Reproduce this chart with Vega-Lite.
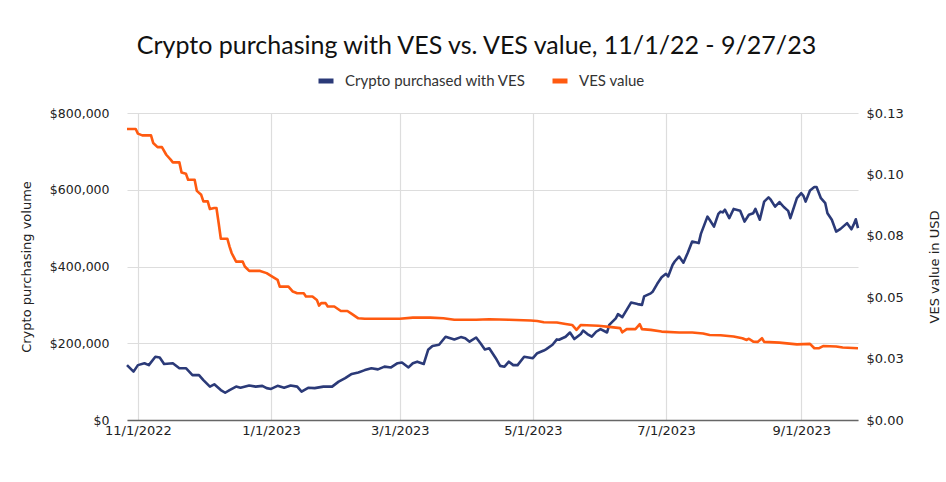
{
  "$schema": "https://vega.github.io/schema/vega-lite/v6.json",
  "width": 731,
  "height": 307,
  "autosize": {"type": "none"},
  "padding": {"left": 127, "top": 113, "right": 88, "bottom": 62},
  "background": "white",
  "title": {
    "text": "Crypto purchasing with VES vs. VES value, 11/1/22 - 9/27/23",
    "anchor": "middle",
    "dx": -16,
    "offset": 12,
    "font": "Lato",
    "fontSize": 25,
    "fontWeight": "normal",
    "color": "#111111"
  },
  "datasets": {
    "crypto": [
      {"date": "2022-10-27", "value": 143000},
      {"date": "2022-10-30", "value": 126000},
      {"date": "2022-11-01", "value": 143000},
      {"date": "2022-11-04", "value": 148000},
      {"date": "2022-11-06", "value": 143000},
      {"date": "2022-11-09", "value": 165000},
      {"date": "2022-11-11", "value": 163000},
      {"date": "2022-11-13", "value": 146000},
      {"date": "2022-11-17", "value": 148000},
      {"date": "2022-11-20", "value": 135000},
      {"date": "2022-11-23", "value": 135000},
      {"date": "2022-11-26", "value": 117000},
      {"date": "2022-11-29", "value": 117000},
      {"date": "2022-12-01", "value": 104000},
      {"date": "2022-12-04", "value": 87000},
      {"date": "2022-12-06", "value": 93000},
      {"date": "2022-12-09", "value": 78000},
      {"date": "2022-12-11", "value": 71000},
      {"date": "2022-12-13", "value": 78000},
      {"date": "2022-12-16", "value": 87000},
      {"date": "2022-12-18", "value": 84000},
      {"date": "2022-12-22", "value": 90000},
      {"date": "2022-12-25", "value": 87000},
      {"date": "2022-12-28", "value": 89000},
      {"date": "2022-12-30", "value": 83000},
      {"date": "2023-01-01", "value": 81000},
      {"date": "2023-01-04", "value": 89000},
      {"date": "2023-01-07", "value": 84000},
      {"date": "2023-01-10", "value": 90000},
      {"date": "2023-01-13", "value": 87000},
      {"date": "2023-01-15", "value": 74000},
      {"date": "2023-01-18", "value": 84000},
      {"date": "2023-01-21", "value": 83000},
      {"date": "2023-01-25", "value": 87000},
      {"date": "2023-01-29", "value": 87000},
      {"date": "2023-02-01", "value": 100000},
      {"date": "2023-02-04", "value": 109000},
      {"date": "2023-02-07", "value": 120000},
      {"date": "2023-02-10", "value": 124000},
      {"date": "2023-02-13", "value": 130000},
      {"date": "2023-02-16", "value": 135000},
      {"date": "2023-02-19", "value": 132000},
      {"date": "2023-02-22", "value": 139000},
      {"date": "2023-02-25", "value": 137000},
      {"date": "2023-02-28", "value": 148000},
      {"date": "2023-03-02", "value": 150000},
      {"date": "2023-03-05", "value": 137000},
      {"date": "2023-03-07", "value": 148000},
      {"date": "2023-03-09", "value": 152000},
      {"date": "2023-03-12", "value": 146000},
      {"date": "2023-03-14", "value": 183000},
      {"date": "2023-03-16", "value": 193000},
      {"date": "2023-03-19", "value": 196000},
      {"date": "2023-03-22", "value": 217000},
      {"date": "2023-03-26", "value": 210000},
      {"date": "2023-03-29", "value": 216000},
      {"date": "2023-03-31", "value": 213000},
      {"date": "2023-04-02", "value": 204000},
      {"date": "2023-04-05", "value": 215000},
      {"date": "2023-04-07", "value": 200000},
      {"date": "2023-04-09", "value": 184000},
      {"date": "2023-04-11", "value": 187000},
      {"date": "2023-04-14", "value": 161000},
      {"date": "2023-04-16", "value": 141000},
      {"date": "2023-04-18", "value": 139000},
      {"date": "2023-04-20", "value": 152000},
      {"date": "2023-04-22", "value": 143000},
      {"date": "2023-04-24", "value": 143000},
      {"date": "2023-04-27", "value": 165000},
      {"date": "2023-04-29", "value": 163000},
      {"date": "2023-05-01", "value": 161000},
      {"date": "2023-05-03", "value": 174000},
      {"date": "2023-05-06", "value": 181000},
      {"date": "2023-05-07", "value": 184000},
      {"date": "2023-05-10", "value": 196000},
      {"date": "2023-05-12", "value": 210000},
      {"date": "2023-05-13", "value": 209000},
      {"date": "2023-05-16", "value": 217000},
      {"date": "2023-05-18", "value": 228000},
      {"date": "2023-05-20", "value": 211000},
      {"date": "2023-05-23", "value": 224000},
      {"date": "2023-05-24", "value": 233000},
      {"date": "2023-05-26", "value": 224000},
      {"date": "2023-05-28", "value": 217000},
      {"date": "2023-05-30", "value": 230000},
      {"date": "2023-06-01", "value": 237000},
      {"date": "2023-06-04", "value": 228000},
      {"date": "2023-06-05", "value": 248000},
      {"date": "2023-06-08", "value": 265000},
      {"date": "2023-06-09", "value": 276000},
      {"date": "2023-06-11", "value": 268000},
      {"date": "2023-06-13", "value": 287000},
      {"date": "2023-06-15", "value": 306000},
      {"date": "2023-06-18", "value": 302000},
      {"date": "2023-06-20", "value": 300000},
      {"date": "2023-06-21", "value": 322000},
      {"date": "2023-06-24", "value": 330000},
      {"date": "2023-06-25", "value": 335000},
      {"date": "2023-06-27", "value": 355000},
      {"date": "2023-06-29", "value": 372000},
      {"date": "2023-07-01", "value": 381000},
      {"date": "2023-07-02", "value": 374000},
      {"date": "2023-07-04", "value": 404000},
      {"date": "2023-07-05", "value": 413000},
      {"date": "2023-07-07", "value": 426000},
      {"date": "2023-07-09", "value": 410000},
      {"date": "2023-07-11", "value": 436000},
      {"date": "2023-07-13", "value": 465000},
      {"date": "2023-07-16", "value": 461000},
      {"date": "2023-07-17", "value": 485000},
      {"date": "2023-07-19", "value": 515000},
      {"date": "2023-07-20", "value": 530000},
      {"date": "2023-07-21", "value": 522000},
      {"date": "2023-07-23", "value": 504000},
      {"date": "2023-07-25", "value": 537000},
      {"date": "2023-07-26", "value": 543000},
      {"date": "2023-07-27", "value": 541000},
      {"date": "2023-07-28", "value": 548000},
      {"date": "2023-07-30", "value": 526000},
      {"date": "2023-08-01", "value": 550000},
      {"date": "2023-08-04", "value": 545000},
      {"date": "2023-08-06", "value": 517000},
      {"date": "2023-08-08", "value": 535000},
      {"date": "2023-08-10", "value": 539000},
      {"date": "2023-08-11", "value": 550000},
      {"date": "2023-08-13", "value": 522000},
      {"date": "2023-08-15", "value": 569000},
      {"date": "2023-08-17", "value": 580000},
      {"date": "2023-08-18", "value": 574000},
      {"date": "2023-08-20", "value": 556000},
      {"date": "2023-08-22", "value": 568000},
      {"date": "2023-08-24", "value": 555000},
      {"date": "2023-08-26", "value": 545000},
      {"date": "2023-08-27", "value": 526000},
      {"date": "2023-08-30", "value": 578000},
      {"date": "2023-09-01", "value": 591000},
      {"date": "2023-09-02", "value": 584000},
      {"date": "2023-09-03", "value": 569000},
      {"date": "2023-09-05", "value": 598000},
      {"date": "2023-09-07", "value": 607000},
      {"date": "2023-09-08", "value": 607000},
      {"date": "2023-09-10", "value": 578000},
      {"date": "2023-09-12", "value": 565000},
      {"date": "2023-09-13", "value": 539000},
      {"date": "2023-09-15", "value": 522000},
      {"date": "2023-09-17", "value": 491000},
      {"date": "2023-09-19", "value": 498000},
      {"date": "2023-09-22", "value": 513000},
      {"date": "2023-09-24", "value": 497000},
      {"date": "2023-09-25", "value": 509000},
      {"date": "2023-09-26", "value": 523000},
      {"date": "2023-09-27", "value": 500000}
    ],
    "ves": [
      {"date": "2022-10-27", "value": 0.1185},
      {"date": "2022-10-31", "value": 0.1185},
      {"date": "2022-11-01", "value": 0.1166},
      {"date": "2022-11-03", "value": 0.1159},
      {"date": "2022-11-07", "value": 0.1159},
      {"date": "2022-11-08", "value": 0.1128},
      {"date": "2022-11-10", "value": 0.1111},
      {"date": "2022-11-12", "value": 0.1111},
      {"date": "2022-11-14", "value": 0.1080},
      {"date": "2022-11-16", "value": 0.1060},
      {"date": "2022-11-17", "value": 0.1049},
      {"date": "2022-11-20", "value": 0.1049},
      {"date": "2022-11-21", "value": 0.1008},
      {"date": "2022-11-23", "value": 0.1003},
      {"date": "2022-11-24", "value": 0.0978},
      {"date": "2022-11-27", "value": 0.0978},
      {"date": "2022-11-28", "value": 0.0933},
      {"date": "2022-11-30", "value": 0.0917},
      {"date": "2022-12-01", "value": 0.0890},
      {"date": "2022-12-03", "value": 0.0890},
      {"date": "2022-12-04", "value": 0.0859},
      {"date": "2022-12-06", "value": 0.0863},
      {"date": "2022-12-07", "value": 0.0863},
      {"date": "2022-12-08", "value": 0.0802},
      {"date": "2022-12-09", "value": 0.0738},
      {"date": "2022-12-12", "value": 0.0738},
      {"date": "2022-12-13", "value": 0.0706},
      {"date": "2022-12-14", "value": 0.0679},
      {"date": "2022-12-16", "value": 0.0645},
      {"date": "2022-12-19", "value": 0.0645},
      {"date": "2022-12-20", "value": 0.0625},
      {"date": "2022-12-22", "value": 0.0607},
      {"date": "2022-12-27", "value": 0.0607},
      {"date": "2022-12-30", "value": 0.0598},
      {"date": "2023-01-01", "value": 0.0587},
      {"date": "2023-01-04", "value": 0.0571},
      {"date": "2023-01-05", "value": 0.0543},
      {"date": "2023-01-09", "value": 0.0543},
      {"date": "2023-01-11", "value": 0.0523},
      {"date": "2023-01-13", "value": 0.0516},
      {"date": "2023-01-16", "value": 0.0516},
      {"date": "2023-01-17", "value": 0.0503},
      {"date": "2023-01-20", "value": 0.0503},
      {"date": "2023-01-22", "value": 0.0489},
      {"date": "2023-01-23", "value": 0.0466},
      {"date": "2023-01-24", "value": 0.0476},
      {"date": "2023-01-26", "value": 0.0476},
      {"date": "2023-01-27", "value": 0.0462},
      {"date": "2023-01-30", "value": 0.0462},
      {"date": "2023-02-02", "value": 0.0444},
      {"date": "2023-02-05", "value": 0.0444},
      {"date": "2023-02-07", "value": 0.0432},
      {"date": "2023-02-10", "value": 0.0414},
      {"date": "2023-02-13", "value": 0.0412},
      {"date": "2023-03-01", "value": 0.0412},
      {"date": "2023-03-07", "value": 0.0417},
      {"date": "2023-03-15", "value": 0.0417},
      {"date": "2023-03-21", "value": 0.0414},
      {"date": "2023-03-26", "value": 0.0408},
      {"date": "2023-04-05", "value": 0.0408},
      {"date": "2023-04-11", "value": 0.0410},
      {"date": "2023-04-20", "value": 0.0408},
      {"date": "2023-04-30", "value": 0.0405},
      {"date": "2023-05-03", "value": 0.0403},
      {"date": "2023-05-06", "value": 0.0398},
      {"date": "2023-05-12", "value": 0.0397},
      {"date": "2023-05-16", "value": 0.0391},
      {"date": "2023-05-19", "value": 0.0387},
      {"date": "2023-05-21", "value": 0.0367},
      {"date": "2023-05-23", "value": 0.0387},
      {"date": "2023-05-31", "value": 0.0384},
      {"date": "2023-06-06", "value": 0.0378},
      {"date": "2023-06-10", "value": 0.0374},
      {"date": "2023-06-11", "value": 0.0357},
      {"date": "2023-06-13", "value": 0.0370},
      {"date": "2023-06-17", "value": 0.0370},
      {"date": "2023-06-19", "value": 0.0390},
      {"date": "2023-06-20", "value": 0.0370},
      {"date": "2023-06-24", "value": 0.0367},
      {"date": "2023-06-29", "value": 0.0360},
      {"date": "2023-07-07", "value": 0.0356},
      {"date": "2023-07-13", "value": 0.0356},
      {"date": "2023-07-18", "value": 0.0352},
      {"date": "2023-07-21", "value": 0.0346},
      {"date": "2023-07-26", "value": 0.0345},
      {"date": "2023-08-01", "value": 0.0340},
      {"date": "2023-08-05", "value": 0.0333},
      {"date": "2023-08-07", "value": 0.0326},
      {"date": "2023-08-08", "value": 0.0331},
      {"date": "2023-08-10", "value": 0.0319},
      {"date": "2023-08-12", "value": 0.0318},
      {"date": "2023-08-14", "value": 0.0333},
      {"date": "2023-08-15", "value": 0.0318},
      {"date": "2023-08-22", "value": 0.0315},
      {"date": "2023-08-30", "value": 0.0308},
      {"date": "2023-09-05", "value": 0.0310},
      {"date": "2023-09-07", "value": 0.0292},
      {"date": "2023-09-09", "value": 0.0292},
      {"date": "2023-09-11", "value": 0.0301},
      {"date": "2023-09-17", "value": 0.0299},
      {"date": "2023-09-20", "value": 0.0295},
      {"date": "2023-09-27", "value": 0.0292}
    ]
  },
  "layer": [
    {
      "data": {"name": "crypto"},
      "mark": {"type": "line", "strokeWidth": 2.6, "strokeJoin": "round"},
      "encoding": {
        "x": {
          "field": "date",
          "type": "temporal",
          "scale": {
            "type": "utc",
            "nice": false,
            "domain": [
              {"year": 2022, "month": 10, "date": 27, "utc": true},
              {"year": 2023, "month": 9, "date": 27, "utc": true}
            ]
          },
          "axis": {
            "title": null,
            "format": "%-m/%-d/%Y",
            "values": [
              {"year": 2022, "month": 11, "date": 1, "utc": true},
              {"year": 2023, "month": 1, "date": 1, "utc": true},
              {"year": 2023, "month": 3, "date": 1, "utc": true},
              {"year": 2023, "month": 5, "date": 1, "utc": true},
              {"year": 2023, "month": 7, "date": 1, "utc": true},
              {"year": 2023, "month": 9, "date": 1, "utc": true}
            ],
            "grid": true,
            "gridColor": "#dddddd",
            "gridWidth": 1.2,
            "ticks": false,
            "domainColor": "#666666",
            "domainWidth": 1.5,
            "labelFont": "DejaVu Sans",
            "labelFontSize": 13,
            "labelColor": "#222222",
            "labelPadding": 4
          }
        },
        "y": {
          "field": "value",
          "type": "quantitative",
          "scale": {"domain": [0, 800000], "nice": false},
          "axis": {
            "title": "Crypto purchasing volume",
            "values": [0, 200000, 400000, 600000, 800000],
            "format": "$,.0f",
            "grid": true,
            "gridColor": "#dddddd",
            "gridWidth": 1.2,
            "domain": false,
            "ticks": false,
            "labelFont": "DejaVu Sans",
            "labelFontSize": 12.5,
            "labelColor": "#222222",
            "labelPadding": 18,
            "titleFont": "DejaVu Sans",
            "titleFontSize": 13,
            "titleFontWeight": "normal",
            "titleColor": "#222222",
            "titlePadding": 16
          }
        },
        "color": {"datum": "Crypto purchased with VES"}
      }
    },
    {
      "data": {"name": "ves"},
      "mark": {"type": "line", "strokeWidth": 2.6, "strokeJoin": "round"},
      "encoding": {
        "x": {"field": "date", "type": "temporal"},
        "y": {
          "field": "value",
          "type": "quantitative",
          "scale": {"domain": [0, 0.125], "nice": false},
          "axis": {
            "orient": "right",
            "title": "VES value in USD",
            "titleAngle": 270,
            "values": [0, 0.025, 0.05, 0.075, 0.1, 0.125],
            "labelExpr": "'$' + format(datum.value + 0.000001, '.2f')",
            "grid": false,
            "domain": false,
            "ticks": false,
            "labelFont": "DejaVu Sans",
            "labelFontSize": 13,
            "labelColor": "#222222",
            "labelPadding": 8,
            "titleFont": "DejaVu Sans",
            "titleFontSize": 13,
            "titleFontWeight": "normal",
            "titleColor": "#222222",
            "titlePadding": 38
          }
        },
        "color": {"datum": "VES value"}
      }
    }
  ],
  "resolve": {"scale": {"y": "independent"}},
  "config": {
    "view": {"stroke": null},
    "range": {"category": ["#2b3a78", "#ff5a10"]},
    "legend": {
      "orient": "none",
      "legendX": 189,
      "legendY": -42,
      "direction": "horizontal",
      "title": null,
      "symbolType": "stroke",
      "symbolStrokeWidth": 5,
      "symbolSize": 225,
      "labelFont": "Lato",
      "labelFontSize": 15,
      "labelColor": "#333333",
      "labelLimit": 400,
      "labelOffset": 9,
      "columnPadding": 16
    }
  }
}
